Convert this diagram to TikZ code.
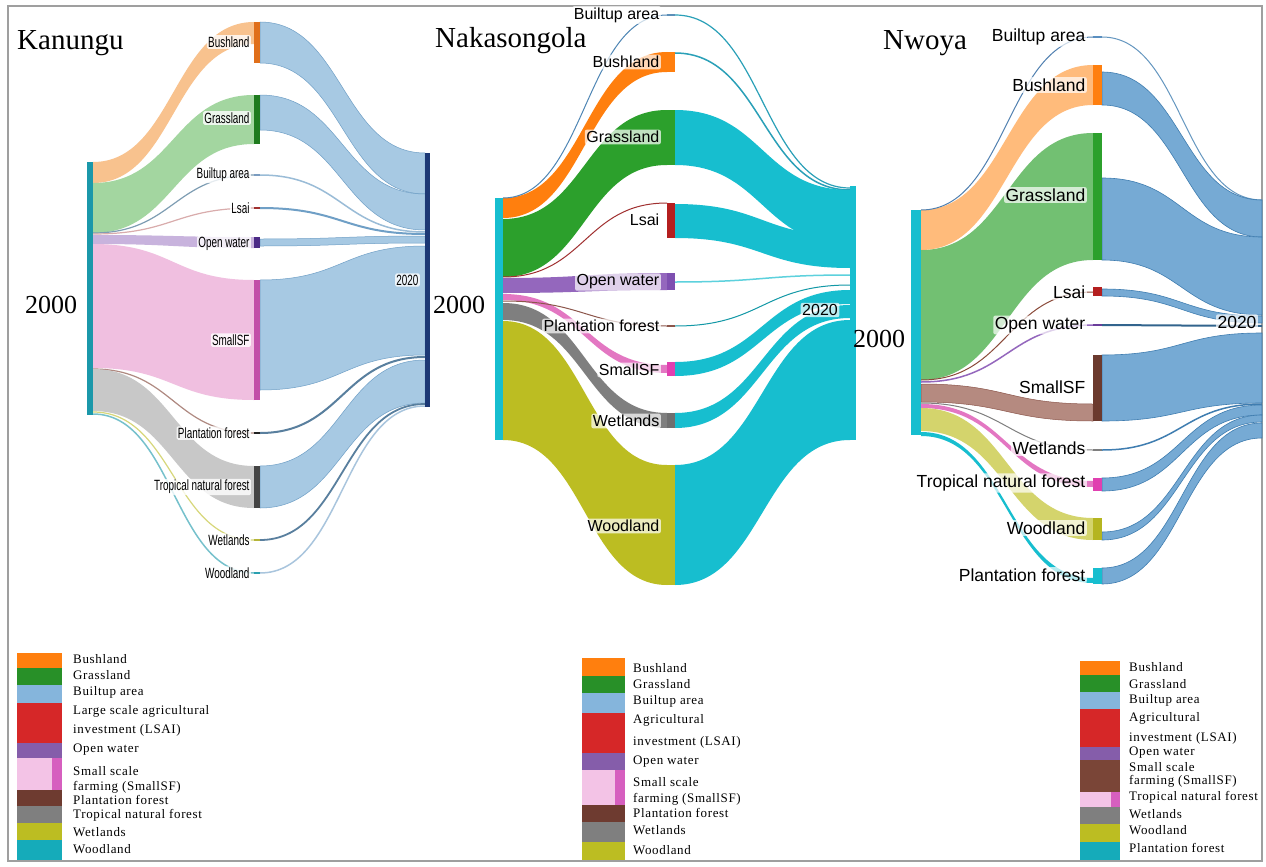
\documentclass[tikz,border=0pt]{standalone}
\usepackage{fontspec}
\setmainfont{Liberation Serif}
\newfontfamily\labfont{Liberation Sans}
\newfontfamily\legfont[LetterSpace=5]{Liberation Serif}
\definecolor{kteal}{HTML}{1B98AA}
\definecolor{korange}{HTML}{F8C28E}
\definecolor{kgreen}{HTML}{A3D6A0}
\definecolor{klav}{HTML}{C8B3DD}
\definecolor{kpink}{HTML}{F0BFE0}
\definecolor{kgray}{HTML}{C8C8C8}
\definecolor{kblue}{HTML}{9EC4E0}
\definecolor{kblueedge}{HTML}{6F9FC6}
\definecolor{cyanC}{HTML}{17BECF}
\definecolor{orangeC}{HTML}{FF7F0E}
\definecolor{greenC}{HTML}{2CA02C}
\definecolor{purpleC}{HTML}{9467BD}
\definecolor{pinkC}{HTML}{E377C2}
\definecolor{grayC}{HTML}{7F7F7F}
\definecolor{oliveC}{HTML}{BCBD22}
\definecolor{redC}{HTML}{B41F1F}
\definecolor{brownC}{HTML}{8C564B}
\definecolor{nblue}{HTML}{6FA6D2}
\definecolor{nblueedge}{HTML}{3F7DB0}
\definecolor{nlgreen}{HTML}{72C072}
\definecolor{nlorange}{HTML}{FFA550}
\definecolor{nbrown}{HTML}{B58A80}
\definecolor{nolive}{HTML}{D4D46C}
\definecolor{legblue}{HTML}{85B5DC}
\definecolor{legred}{HTML}{D62728}
\definecolor{legbrown}{HTML}{6E3B30}
\definecolor{legbrownb}{HTML}{7A4537}
\definecolor{legpink}{HTML}{F3C3E6}
\definecolor{legmag}{HTML}{D65FBF}
\definecolor{kbarorange}{HTML}{E06F1A}
\definecolor{kbargreen}{HTML}{1E7B1E}
\definecolor{kbarblue}{HTML}{7A9CC0}
\definecolor{kbarred}{HTML}{A0302F}
\definecolor{kbarpurple}{HTML}{4B2A86}
\definecolor{kbarmag}{HTML}{C24FA8}
\definecolor{kbarblack}{HTML}{222222}
\definecolor{kbargray}{HTML}{444444}
\definecolor{kbarolive}{HTML}{B5B53A}
\definecolor{kbarcyan}{HTML}{2AA0B0}
\definecolor{kbarnavy}{HTML}{1C3875}
\definecolor{nlinkblue}{HTML}{4F86B5}
\definecolor{nlinkred}{HTML}{A03030}
\definecolor{nlinkcyan}{HTML}{2AA0B8}
\definecolor{nbarblue}{HTML}{5B8FB8}
\definecolor{nbarpurple}{HTML}{7E4FB0}
\definecolor{nbarmag}{HTML}{E040B0}
\definecolor{nbargray}{HTML}{6F6F6F}
\definecolor{wlinkblue}{HTML}{5080B0}
\definecolor{wlinkbrown}{HTML}{8B4A3A}
\definecolor{wbarblue}{HTML}{5A8FC0}
\definecolor{wbarpurple}{HTML}{6A3D9A}
\definecolor{wbarbrown}{HTML}{6B3A2E}
\definecolor{wbarolive}{HTML}{B5B520}
\newcommand\flow[7]{\path[#7] (#1,#2) .. controls ({(#1+#4)/2},#2) and ({(#1+#4)/2},#5) .. (#4,#5) -- (#4,#6) .. controls ({(#1+#4)/2},#6) and ({(#1+#4)/2},#3) .. (#1,#3) -- cycle;}
\newcommand\lnk[5]{\draw[#5] (#1,#2) .. controls ({(#1+#3)/2},#2) and ({(#1+#3)/2},#4) .. (#3,#4);}
\newcommand\kl[1]{\scalebox{0.9}[1.35]{#1}}
\begin{document}
\begin{tikzpicture}[x=1pt,y=-1pt,
  klab/.style={font=\labfont\fontsize{11}{12}\selectfont, fill=white, fill opacity=0.8, text opacity=1, rounded corners=1.5pt, inner sep=1.3pt, anchor=east},
  nlab/.style={font=\labfont\fontsize{16}{18}\selectfont, fill=white, fill opacity=0.7, text opacity=1, rounded corners=2pt, inner sep=1.5pt, anchor=east},
  wlab/.style={font=\labfont\fontsize{17.5}{19}\selectfont, fill=white, fill opacity=0.7, text opacity=1, rounded corners=2pt, inner sep=1.5pt, anchor=east},
  title/.style={font=\fontsize{29}{32}\selectfont, anchor=base west, inner sep=0pt},
  yr/.style={font=\fontsize{26}{28}\selectfont, anchor=base west, inner sep=0pt},
  legtext/.style={font=\legfont\fontsize{13}{14}\selectfont, anchor=west, inner sep=0pt},
  kf/.style={draw=kblueedge, line width=0.5, fill=kblue, fill opacity=0.9},
  cf/.style={fill=cyanC},
  nf/.style={draw=nblueedge, line width=0.6, fill=nblue, fill opacity=0.95}]
\useasboundingbox (0,0) rectangle (1266,867);
\fill[white] (0,0) rectangle (1266,867);
\draw[gray!75, line width=2] (8,6) rectangle (1262,861);

% ================= KANUNGU =================
% left flows
\flow{93}{162}{183}{254}{22}{44}{fill=korange}
\flow{93}{183}{233}{254}{95}{144}{fill=kgreen}
\lnk{93}{233}{254}{175}{draw=kblue!80!black, line width=1.2}
\lnk{93}{234}{254}{208}{draw=kbarred!40, line width=1.2}
\flow{93}{235}{244}{254}{237}{248}{fill=klav}
\flow{93}{244}{368}{254}{280}{400}{fill=kpink}
\lnk{93}{369}{254}{433}{draw=brownC!70, line width=1.2}
\flow{93}{369}{411}{254}{466}{508}{fill=kgray}
\lnk{93}{412}{254}{540}{draw=oliveC!60, line width=1.2}
\lnk{93}{414}{254}{573}{draw=kteal!60, line width=1.5}
% right flows
\flow{260}{22}{63}{425}{153}{194}{kf}
\flow{260}{95}{130}{425}{194}{230}{kf}
\lnk{260}{175}{425}{232}{draw=kblueedge!70, line width=1.5}
\lnk{260}{208}{425}{234}{draw=kblueedge, line width=2}
\flow{260}{239}{246}{425}{236}{243}{kf}
\flow{260}{280}{390}{425}{246}{355}{kf}
\lnk{260}{433}{425}{357}{draw=kblueedge!80!black, line width=2}
\flow{260}{466}{508}{425}{360}{403}{kf}
\lnk{260}{540}{425}{404}{draw=kblueedge!80!black, line width=1.8}
\lnk{260}{573}{425}{406}{draw=kblueedge!60, line width=1.5}
% bars
\fill[kteal] (87,162) rectangle (93,415);
\fill[kbarorange] (254,22) rectangle (260,63);
\fill[kbargreen] (254,95) rectangle (260,144);
\fill[kbarblue] (254,174) rectangle (260,176);
\fill[kbarred] (254,207) rectangle (260,209);
\fill[kbarpurple] (254,237) rectangle (260,248);
\fill[kbarmag] (254,280) rectangle (260,400);
\fill[kbarblack] (254,432) rectangle (260,434);
\fill[kbargray] (254,466) rectangle (260,508);
\fill[kbarolive] (254,539) rectangle (260,541);
\fill[kbarcyan] (254,572) rectangle (260,574);
\fill[kbarnavy] (425,153) rectangle (430,407);
% labels
\node[title] (k-title) at (17,49) {Kanungu};
\node[yr] (k-2000) at (25,313) {2000};
\node[klab] (k-bush) at (251,42) {\kl{Bushland}};
\node[klab] (k-grass) at (251,118) {\kl{Grassland}};
\node[klab] (k-built) at (251,175) {\kl{Builtup area}};
\node[klab] (k-lsai) at (251,208) {\kl{Lsai}};
\node[klab] (k-ow) at (251,244) {\kl{Open water}};
\node[klab] (k-ssf) at (251,340) {\kl{SmallSF}};
\node[klab] (k-plant) at (251,433) {\kl{Plantation forest}};
\node[klab] (k-trop) at (251,487) {\kl{Tropical natural forest}};
\node[klab] (k-wet) at (251,540) {\kl{Wetlands}};
\node[klab] (k-wood) at (251,573) {\kl{Woodland}};
\node[klab] (k-2020) at (420,280) {\kl{2020}};

% ================= NAKASONGOLA =================
\flow{503}{198}{218}{667}{52}{72}{fill=orangeC}
\flow{503}{219}{277}{667}{110}{165}{fill=greenC}
\lnk{503}{198}{667}{15}{draw=nlinkblue, line width=1}
\lnk{503}{277}{667}{203}{draw=nlinkred, line width=1}
\flow{503}{278}{293}{667}{273}{290}{fill=purpleC}
\flow{503}{294}{300}{667}{365}{373}{fill=pinkC}
\lnk{503}{301}{667}{326}{draw=brownC, line width=1}
\flow{503}{303}{320}{667}{413}{428}{fill=grayC}
\flow{503}{321}{440}{667}{465}{585}{fill=oliveC}
% right flows
\lnk{675}{15}{850}{188}{draw=nlinkcyan, line width=1.2}
\lnk{675}{53}{850}{190}{draw=nlinkcyan, line width=1.5}
\flow{675}{110}{165}{850}{190}{245}{cf}
\flow{675}{204}{238}{850}{236}{268}{cf}
\lnk{675}{282}{850}{275}{draw=cyanC!70, line width=1.5}
\lnk{675}{326}{850}{285}{draw=cyanC!80!black, line width=1}
\flow{675}{362}{376}{850}{290}{304}{cf}
\flow{675}{413}{428}{850}{305}{318}{cf}
\flow{675}{465}{585}{850}{320}{440}{cf}
% bars
\fill[cyanC] (495,198) rectangle (503,440);
\fill[nbarblue] (667,14) rectangle (675,16);
\fill[orangeC] (667,52) rectangle (675,72);
\fill[greenC] (667,110) rectangle (675,165);
\fill[redC] (667,203) rectangle (675,238);
\fill[nbarpurple] (667,273) rectangle (675,290);
\fill[brownC] (667,325) rectangle (675,327);
\fill[nbarmag] (667,362) rectangle (675,376);
\fill[nbargray] (667,413) rectangle (675,428);
\fill[oliveC] (667,465) rectangle (675,585);
\fill[cyanC] (850,186) rectangle (856,440);
% labels
\node[title] (n-title) at (435,48) {Nakasongola};
\node[yr] (n-2000) at (433,313) {2000};
\node[nlab] (n-built) at (661,15) {Builtup area};
\node[nlab] (n-bush) at (661,62) {Bushland};
\node[nlab] (n-grass) at (661,137) {Grassland};
\node[nlab] (n-lsai) at (661,220) {Lsai};
\node[nlab] (n-ow) at (661,282) {Open water};
\node[nlab] (n-plant) at (661,326) {Plantation forest};
\node[nlab] (n-ssf) at (661,370) {SmallSF};
\node[nlab] (n-wet) at (661,421) {Wetlands};
\node[nlab] (n-wood) at (661,526) {Woodland};
\node[nlab, anchor=center] (n-2020) at (820,310) {2020};

% ================= NWOYA =================
\flow{921}{250}{380}{1093}{133}{260}{fill=nlgreen}
\flow{921}{210}{250}{1093}{65}{105}{fill=nlorange, fill opacity=0.75}
\lnk{921}{210}{1093}{37}{draw=wlinkblue, line width=1}
\lnk{921}{380}{1093}{292}{draw=wlinkbrown, line width=1}
\lnk{921}{382}{1093}{325}{draw=purpleC, line width=1.5}
\flow{921}{384}{402}{1093}{404}{421}{fill=nbrown, draw=brownC, line width=0.5}
\lnk{921}{403}{1093}{450}{draw=grayC, line width=1}
\flow{921}{404}{408}{1093}{481}{487}{fill=pinkC}
\flow{921}{408}{431}{1093}{518}{540}{fill=nolive}
\flow{921}{432}{436}{1093}{578}{583}{fill=cyanC}
% right flows
\lnk{1102}{37}{1262}{200}{draw=nblueedge!80, line width=1}
\flow{1102}{72}{105}{1262}{200}{237}{nf}
\flow{1102}{178}{260}{1262}{237}{315}{nf}
\flow{1102}{289}{296}{1262}{316}{323}{nf}
\lnk{1102}{325}{1262}{326}{draw=nblueedge!80!black, line width=2}
\flow{1102}{355}{421}{1262}{333}{403}{nf}
\lnk{1102}{450}{1262}{404}{draw=nblueedge, line width=1.5}
\flow{1102}{478}{491}{1262}{405}{415}{nf}
\flow{1102}{532}{540}{1262}{415}{422}{nf}
\flow{1102}{568}{584}{1262}{423}{438}{nf}
% bars
\fill[cyanC] (911,210) rectangle (921,435);
\fill[wbarblue] (1093,36) rectangle (1102,38);
\fill[orangeC] (1093,65) rectangle (1102,105);
\fill[greenC] (1093,133) rectangle (1102,260);
\fill[redC] (1093,287) rectangle (1102,296);
\fill[wbarpurple] (1093,324) rectangle (1102,326);
\fill[wbarbrown] (1093,355) rectangle (1102,421);
\fill[grayC] (1093,449) rectangle (1102,451);
\fill[nbarmag] (1093,478) rectangle (1102,491);
\fill[wbarolive] (1093,518) rectangle (1102,540);
\fill[cyanC] (1093,568) rectangle (1102,584);
% labels
\node[title] (w-title) at (883,50) {Nwoya};
\node[yr] (w-2000) at (853,347) {2000};
\node[wlab] (w-built) at (1087,37) {Builtup area};
\node[wlab] (w-bush) at (1087,85) {Bushland};
\node[wlab] (w-grass) at (1087,195) {Grassland};
\node[wlab] (w-lsai) at (1087,292) {Lsai};
\node[wlab] (w-ow) at (1087,325) {Open water};
\node[wlab] (w-ssf) at (1087,387) {SmallSF};
\node[wlab] (w-wet) at (1087,448) {Wetlands};
\node[wlab] (w-trop) at (1087,483) {Tropical natural forest};
\node[wlab] (w-wood) at (1087,528) {Woodland};
\node[wlab] (w-plant) at (1087,575) {Plantation forest};
\node[wlab, anchor=center] (w-2020) at (1237,322) {2020};

% ================= LEGENDS =================
% legend 1
\fill[orangeC] (17,653) rectangle (62,668);
\fill[greenC!90!black] (17,668) rectangle (62,685);
\fill[legblue] (17,685) rectangle (62,703);
\fill[legred] (17,703) rectangle (62,743);
\fill[purpleC!90!black] (17,743) rectangle (62,758);
\fill[legpink] (17,758) rectangle (62,790);
\fill[legmag] (52,758) rectangle (62,790);
\fill[legbrown] (17,790) rectangle (62,806);
\fill[grayC] (17,806) rectangle (62,823);
\fill[oliveC] (17,823) rectangle (62,840);
\fill[cyanC!90!black] (17,840) rectangle (62,860);
\node[legtext] (l1-a) at (73,659) {Bushland};
\node[legtext] (l1-b) at (73,675) {Grassland};
\node[legtext] (l1-c) at (73,692) {Builtup area};
\node[legtext] (l1-d) at (73,711) {Large scale agricultural};
\node[legtext] (l1-e) at (73,730) {investment (LSAI)};
\node[legtext] (l1-f) at (73,750) {Open water};
\node[legtext] (l1-g) at (73,771) {Small scale};
\node[legtext] (l1-h) at (73,787) {farming (SmallSF)};
\node[legtext] (l1-i) at (73,800) {Plantation forest};
\node[legtext] (l1-j) at (73,815) {Tropical natural forest};
\node[legtext] (l1-k) at (73,832) {Wetlands};
\node[legtext] (l1-l) at (73,849) {Woodland};
% legend 2
\fill[orangeC] (582,658) rectangle (625,676);
\fill[greenC!90!black] (582,676) rectangle (625,693);
\fill[legblue] (582,693) rectangle (625,713);
\fill[legred] (582,713) rectangle (625,753);
\fill[purpleC!90!black] (582,753) rectangle (625,770);
\fill[legpink] (582,770) rectangle (625,805);
\fill[legmag] (615,770) rectangle (625,805);
\fill[legbrown] (582,805) rectangle (625,822);
\fill[grayC] (582,822) rectangle (625,842);
\fill[oliveC] (582,842) rectangle (625,860);
\node[legtext] (l2-a) at (633,668) {Bushland};
\node[legtext] (l2-b) at (633,684) {Grassland};
\node[legtext] (l2-c) at (633,701) {Builtup area};
\node[legtext] (l2-d) at (633,720) {Agricultural};
\node[legtext] (l2-e) at (633,742) {investment (LSAI)};
\node[legtext] (l2-f) at (633,762) {Open water};
\node[legtext] (l2-g) at (633,782) {Small scale};
\node[legtext] (l2-h) at (633,799) {farming (SmallSF)};
\node[legtext] (l2-i) at (633,813) {Plantation forest};
\node[legtext] (l2-j) at (633,830) {Wetlands};
\node[legtext] (l2-k) at (633,850) {Woodland};
% legend 3
\fill[orangeC] (1080,661) rectangle (1120,675);
\fill[greenC!90!black] (1080,675) rectangle (1120,692);
\fill[legblue] (1080,692) rectangle (1120,709);
\fill[legred] (1080,709) rectangle (1120,747);
\fill[purpleC!90!black] (1080,747) rectangle (1120,760);
\fill[legbrownb] (1080,760) rectangle (1120,792);
\fill[legpink] (1080,792) rectangle (1120,807);
\fill[legmag] (1111,792) rectangle (1120,807);
\fill[grayC] (1080,807) rectangle (1120,824);
\fill[oliveC] (1080,824) rectangle (1120,842);
\fill[cyanC!90!black] (1080,842) rectangle (1120,860);
\node[legtext] (l3-a) at (1129,667) {Bushland};
\node[legtext] (l3-b) at (1129,684) {Grassland};
\node[legtext] (l3-c) at (1129,700) {Builtup area};
\node[legtext] (l3-d) at (1129,718) {Agricultural};
\node[legtext] (l3-e) at (1129,738) {investment (LSAI)};
\node[legtext] (l3-f) at (1129,753) {Open water};
\node[legtext] (l3-g) at (1129,767) {Small scale};
\node[legtext] (l3-h) at (1129,781) {farming (SmallSF)};
\node[legtext] (l3-i) at (1129,797) {Tropical natural forest};
\node[legtext] (l3-j) at (1129,814) {Wetlands};
\node[legtext] (l3-k) at (1129,830) {Woodland};
\node[legtext] (l3-l) at (1129,848) {Plantation forest};
\end{tikzpicture}
\end{document}
